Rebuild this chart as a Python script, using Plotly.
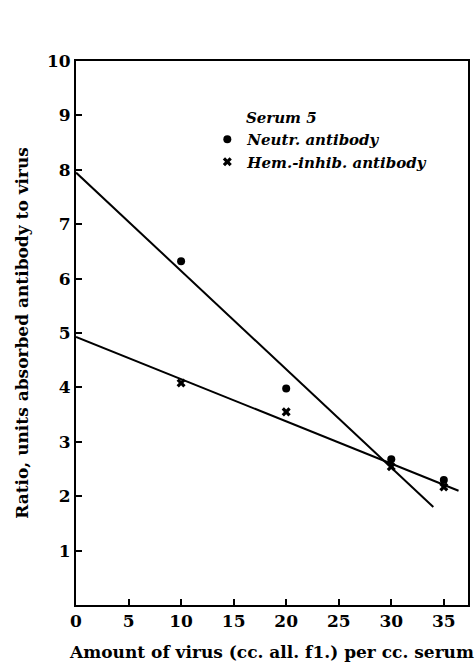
import plotly.graph_objects as go

# Data
virus_amount = [10, 20, 30, 35]
neutr_ratio = [6.32, 3.98, 2.68, 2.30]
hem_ratio = [4.08, 3.55, 2.54, 2.17]

# Fitted lines (end points as drawn)
neutr_fit_x = [0, 34]
neutr_fit_y = [7.95, 1.80]
hem_fit_x = [0, 36.4]
hem_fit_y = [4.93, 2.10]

x_ticks = [0, 5, 10, 15, 20, 25, 30, 35]
y_ticks = [1, 2, 3, 4, 5, 6, 7, 8, 9, 10]

FONT = "DejaVu Serif"

fig = go.Figure()
fig.add_trace(go.Scatter(x=neutr_fit_x, y=neutr_fit_y, mode="lines",
                         line=dict(color="black", width=2), showlegend=False,
                         hoverinfo="skip"))
fig.add_trace(go.Scatter(x=hem_fit_x, y=hem_fit_y, mode="lines",
                         line=dict(color="black", width=2), showlegend=False,
                         hoverinfo="skip"))
fig.add_trace(go.Scatter(x=virus_amount, y=neutr_ratio, mode="markers",
                         name="Neutr. antibody",
                         marker=dict(symbol="circle", size=8, color="black")))
fig.add_trace(go.Scatter(x=virus_amount, y=hem_ratio, mode="markers",
                         name="Hem.-inhib. antibody",
                         marker=dict(symbol="x", size=8, color="black",
                                     line=dict(width=0))))

fig.update_layout(
    width=476, height=665,
    margin=dict(l=76, r=6, t=61, b=59),
    paper_bgcolor="white", plot_bgcolor="white",
    font=dict(family=FONT, size=17, color="black", weight="bold"),
    legend=dict(
        x=0.335, y=0.922, xanchor="left", yanchor="top",
        bgcolor="rgba(0,0,0,0)",
        font=dict(family=FONT, size=15, style="italic", weight="bold"),
        title=dict(text="&nbsp;&nbsp;&nbsp;&nbsp;&nbsp;&nbsp;&nbsp;Serum 5",
                   font=dict(family=FONT, size=15, style="italic", weight="bold")),
        itemwidth=30, tracegroupgap=0,
    ),
    xaxis=dict(
        range=[0, 37.3], tickvals=x_ticks, ticktext=[str(v) for v in x_ticks],
        ticks="inside", ticklen=6, tickwidth=1.5, tickcolor="black",
        showline=True, linecolor="black", linewidth=2, mirror=True,
        showgrid=False, zeroline=False,
        tickfont=dict(family=FONT, size=17, weight="bold"),
        title=dict(text="Amount of virus (cc. all. f1.) per cc. serum",
                   font=dict(family=FONT, size=17, weight="bold"), standoff=16),
    ),
    yaxis=dict(
        range=[0, 10], tickvals=y_ticks, ticktext=[str(v) for v in y_ticks],
        ticks="inside", ticklen=6, tickwidth=1.5, tickcolor="black",
        showline=True, linecolor="black", linewidth=2, mirror=True,
        showgrid=False, zeroline=False,
        tickfont=dict(family=FONT, size=17, weight="bold"),
        title=dict(text="Ratio, units absorbed antibody to virus",
                   font=dict(family=FONT, size=17, weight="bold"), standoff=14),
    ),
)

fig.write_html("out.html")
